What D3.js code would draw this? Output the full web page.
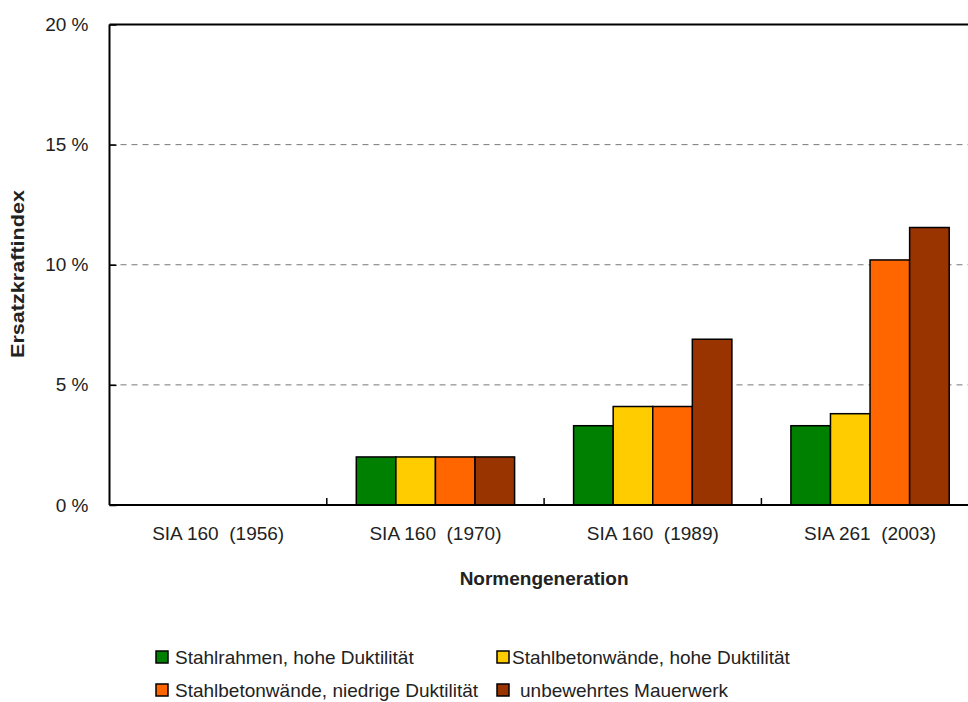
<!DOCTYPE html>
<html lang="de">
<head>
<meta charset="UTF-8">
<script src="https://cdnjs.cloudflare.com/ajax/libs/d3/7.8.5/d3.min.js"></script>
<style>
  body { margin: 0; background: #fff; }
  svg text { white-space: pre; }
</style>
</head>
<body>
<div id="chart"></div>
<script>
    // Daten
    var categories = ["SIA 160  (1956)", "SIA 160  (1970)", "SIA 160  (1989)", "SIA 261  (2003)"];
    var seriesNames = ["Stahlrahmen, hohe Duktilität", "Stahlbetonwände, hohe Duktilität",
                       "Stahlbetonwände, niedrige Duktilität", "unbewehrtes Mauerwerk"];
    var stahlrahmen = [null, 2.0, 3.3, 3.3];
    var betonHoch = [null, 2.0, 4.1, 3.8];
    var betonNiedrig = [null, 2.0, 4.1, 10.2];
    var mauerwerk = [null, 2.0, 6.9, 11.55];
    var yTicks = [0, 5, 10, 15, 20];

    var colors = ["#008000", "#ffcc00", "#ff6600", "#993300"];
    var allValues = [stahlrahmen, betonHoch, betonNiedrig, mauerwerk];

    var W = 968, H = 702;
    var plotLeft = 109.5, plotTop = 24.5, plotBottom = 505;
    var bandW = 217.3;
    var plotRight = plotLeft + bandW * categories.length;

    var svg = d3.select("#chart").append("svg")
        .attr("width", W).attr("height", H);

    var x0 = d3.scaleBand().domain(categories).range([plotLeft, plotRight]);
    var x1 = d3.scaleBand().domain(d3.range(seriesNames.length))
        .range([29.5, x0.bandwidth() - 29.5]);
    var y = d3.scaleLinear().domain([0, 20]).range([plotBottom, plotTop]);

    // Gitterlinien
    svg.append("g").selectAll("line")
        .data(yTicks.filter(function(d) { return d > 0 && d < 20; }))
        .enter().append("line")
        .attr("x1", plotLeft).attr("x2", W)
        .attr("y1", function(d) { return y(d); })
        .attr("y2", function(d) { return y(d); })
        .attr("stroke", "#777").attr("stroke-width", 1)
        .attr("stroke-dasharray", "6,5");

    // Balken
    var bars = [];
    categories.forEach(function(c, ci) {
        allValues.forEach(function(vals, si) {
            if (vals[ci] != null) bars.push({cat: c, s: si, v: vals[ci]});
        });
    });
    svg.append("g").selectAll("rect")
        .data(bars)
        .enter().append("rect")
        .attr("x", function(d) { return x0(d.cat) + x1(d.s); })
        .attr("width", x1.bandwidth())
        .attr("y", function(d) { return y(d.v); })
        .attr("height", function(d) { return y(0) - y(d.v); })
        .attr("fill", function(d) { return colors[d.s]; })
        .attr("stroke", "#000").attr("stroke-width", 1.5);

    // Achsen
    var axisG = svg.append("g").attr("stroke", "#000").attr("stroke-width", 2);
    axisG.append("line").attr("x1", plotLeft).attr("x2", plotLeft).attr("y1", plotTop).attr("y2", plotBottom);
    axisG.append("line").attr("x1", plotLeft).attr("x2", W).attr("y1", plotBottom).attr("y2", plotBottom);
    axisG.append("line").attr("x1", plotLeft).attr("x2", W).attr("y1", plotTop).attr("y2", plotTop);

    var yAxis = d3.axisLeft(y).tickValues(yTicks).tickSize(-7).tickPadding(21)
        .tickFormat(function(d) { return d + " %"; });
    var gy = svg.append("g").attr("transform", "translate(" + plotLeft + ",0)").call(yAxis);
    gy.select(".domain").remove();
    gy.selectAll("line").attr("stroke", "#000").attr("stroke-width", 1.5);
    gy.selectAll("text").attr("font-family", "Liberation Sans, Arial, sans-serif")
        .attr("font-size", 19).attr("fill", "#222");

    var xAxis = d3.axisBottom(x0).tickSize(0).tickPadding(22);
    var gx = svg.append("g").attr("transform", "translate(0," + plotBottom + ")").call(xAxis);
    gx.select(".domain").remove();
    gx.selectAll("text").attr("font-family", "Liberation Sans, Arial, sans-serif")
        .attr("font-size", 19).attr("fill", "#222");

    // kleine Trennstriche zwischen Kategorien
    svg.append("g").selectAll("line")
        .data(categories.slice(1))
        .enter().append("line")
        .attr("x1", function(d) { return x0(d); })
        .attr("x2", function(d) { return x0(d); })
        .attr("y1", plotBottom).attr("y2", plotBottom - 7)
        .attr("stroke", "#000").attr("stroke-width", 1.5);

    // Achsentitel
    svg.append("text")
        .attr("x", (plotLeft + plotRight) / 2).attr("y", 585)
        .attr("text-anchor", "middle")
        .attr("font-family", "Liberation Sans, Arial, sans-serif")
        .attr("font-weight", "bold").attr("font-size", 19).attr("fill", "#222")
        .text("Normengeneration");

    svg.append("text")
        .attr("transform", "translate(24,274) rotate(-90)")
        .attr("text-anchor", "middle")
        .attr("font-family", "Liberation Sans, Arial, sans-serif")
        .attr("font-weight", "bold").attr("font-size", 19).attr("fill", "#222")
        .attr("textLength", 168).attr("lengthAdjust", "spacingAndGlyphs")
        .text("Ersatzkraftindex");

    // Legende
    var legendPos = [[156, 657, 175], [497, 657, 512], [156, 690, 175], [497, 690, 520]];
    var leg = svg.append("g").selectAll("g")
        .data(seriesNames)
        .enter().append("g");
    leg.append("rect")
        .attr("x", function(d, i) { return legendPos[i][0]; })
        .attr("y", function(d, i) { return legendPos[i][1] - 6; })
        .attr("width", 12).attr("height", 12)
        .attr("fill", function(d, i) { return colors[i]; })
        .attr("stroke", "#000").attr("stroke-width", 1.5);
    leg.append("text")
        .attr("x", function(d, i) { return legendPos[i][2]; })
        .attr("y", function(d, i) { return legendPos[i][1] + 6.5; })
        .attr("font-family", "Liberation Sans, Arial, sans-serif")
        .attr("font-size", 19).attr("fill", "#222")
        .text(function(d) { return d; });
</script>
</body>
</html>
